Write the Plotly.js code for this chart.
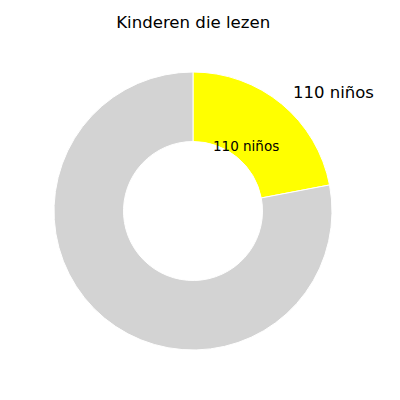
<!DOCTYPE html>
<html>
<head>
<meta charset="utf-8">
<script src="https://cdn.plot.ly/plotly-3.0.1.min.js"></script>
<style>body{margin:0;background:#fff}</style>
</head>
<body>
<div id="chart" style="width:400px;height:400px"></div>
<script>
// slices: children reading vs the rest
const labels = ['Lezen', 'Rest'];
const values = [110, 390];
const colors = ['#ffff00', '#d3d3d3'];
const unit = 'niños';

const label = values[0] + ' ' + unit;

const trace = {
  type: 'pie',
  labels: labels,
  values: values,
  hole: 0.5,
  sort: false,
  direction: 'clockwise',
  rotation: 0,
  textinfo: 'none',
  hoverinfo: 'none',
  marker: {colors: colors, line: {color: '#ffffff', width: 1}},
  showlegend: false
};

const layout = {
  width: 400,
  height: 400,
  margin: {l: 54, r: 68, t: 72, b: 50},
  paper_bgcolor: '#ffffff',
  font: {family: 'DejaVu Sans', color: '#000000'},
  title: {text: 'Kinderen die lezen', x: 0.483, xanchor: 'center', y: 0.945, yanchor: 'middle',
          font: {size: 16.6, family: 'DejaVu Sans'}},
  annotations: [
    {text: label, xref: 'paper', yref: 'paper', x: 0.853, y: 0.928, showarrow: false,
     xanchor: 'left', yanchor: 'middle', font: {size: 16.5}},
    {text: label, xref: 'paper', yref: 'paper', x: 0.69, y: 0.735, showarrow: false,
     xanchor: 'center', yanchor: 'middle', font: {size: 13.5}}
  ]
};

Plotly.newPlot('chart', [trace], layout, {displayModeBar: false, staticPlot: true});
</script>
</body>
</html>
